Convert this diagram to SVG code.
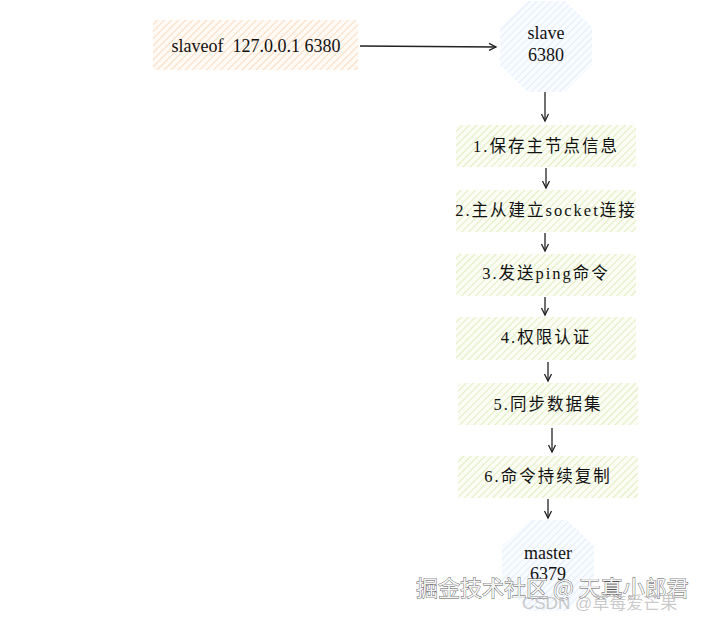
<svg xmlns="http://www.w3.org/2000/svg" width="706" height="619" viewBox="0 0 706 619">
<defs>
<pattern id="hOrange" width="5" height="5" patternUnits="userSpaceOnUse" patternTransform="rotate(45)">
<rect width="5" height="5" fill="#fffaf5"/>
<line x1="0" y1="0" x2="0" y2="5" stroke="#fbdcc0" stroke-width="2"/>
</pattern>
<pattern id="hGreen" width="5" height="5" patternUnits="userSpaceOnUse" patternTransform="rotate(45)">
<rect width="5" height="5" fill="#fbfdf4"/>
<line x1="0" y1="0" x2="0" y2="5" stroke="#e2edbf" stroke-width="2"/>
</pattern>
<pattern id="hBlue" width="5" height="5" patternUnits="userSpaceOnUse" patternTransform="rotate(45)">
<rect width="5" height="5" fill="#f8fbff"/>
<line x1="0" y1="0" x2="0" y2="5" stroke="#dfeaf8" stroke-width="1.6"/>
</pattern>
<marker id="arr" markerWidth="10" markerHeight="10" refX="8" refY="5" orient="auto" markerUnits="userSpaceOnUse">
<path d="M1,1.5 L8,5 L1,8.5" fill="none" stroke="#222" stroke-width="1.3"/>
</marker>
</defs>
<style>
.t{font-family:"Liberation Serif","Noto Sans CJK SC",serif;font-size:18px;fill:#111;text-anchor:middle}
.c{font-family:"Liberation Serif","Noto Sans CJK SC",serif;font-size:16.5px;fill:#111;text-anchor:middle;letter-spacing:2px}
.edge{stroke:#222;stroke-width:1.3;fill:none;marker-end:url(#arr)}
.wm{font-family:"Noto Sans CJK SC",sans-serif;fill:#f4f4f4;stroke:#555;stroke-width:0.8;paint-order:stroke}
</style>
<rect width="706" height="619" fill="#fff"/>

<g id="cmd">
<rect x="153" y="20" width="205" height="50" fill="url(#hOrange)"/>
<text class="t" x="256" y="52">slaveof&#160; 127.0.0.1 6380</text>
</g>

<g id="slave">
<polygon points="528,1 565,1 592,27 592,65 565,92 528,92 500,65 500,27" fill="url(#hBlue)" stroke="none"/>
<text class="t" x="546" y="39">slave</text>
<text class="t" x="546" y="61">6380</text>
</g>

<g id="step1">
<rect x="456" y="125" width="180" height="42" fill="url(#hGreen)" rx="3"/>
<text class="c" x="546" y="152">1.保存主节点信息</text>
</g>
<g id="step2">
<rect x="456" y="190" width="180" height="42" fill="url(#hGreen)" rx="3"/>
<text class="c" x="546" y="216" letter-spacing="1">2.主从建立socket连接</text>
</g>
<g id="step3">
<rect x="456" y="254" width="180" height="42" fill="url(#hGreen)" rx="3"/>
<text class="c" x="546" y="279">3.发送ping命令</text>
</g>
<g id="step4">
<rect x="456" y="317" width="180" height="43" fill="url(#hGreen)" rx="3"/>
<text class="c" x="546" y="343">4.权限认证</text>
</g>
<g id="step5">
<rect x="458" y="383" width="180" height="42" fill="url(#hGreen)" rx="3"/>
<text class="c" x="548" y="410">5.同步数据集</text>
</g>
<g id="step6">
<rect x="458" y="456" width="180" height="42" fill="url(#hGreen)" rx="3"/>
<text class="c" x="548" y="482">6.命令持续复制</text>
</g>

<g id="master">
<polygon points="530,520 567,520 594,546 594,584 567,611 530,611 502,584 502,546" fill="url(#hBlue)" stroke="none"/>
<text class="t" x="548" y="559">master</text>
<text class="t" x="548" y="580">6379</text>
</g>

<g id="connectors">
<path class="edge" d="M360,46 L496,47"/>
<path class="edge" d="M545,92 L545,121"/>
<path class="edge" d="M546,168 L546,188"/>
<path class="edge" d="M545,233 L545,251"/>
<path class="edge" d="M545,297 L545,315"/>
<path class="edge" d="M548,362 L548,381"/>
<path class="edge" d="M552,428 L552,452"/>
<path class="edge" d="M548,499 L548,518"/>
</g>

<g id="watermark">
<text class="wm" x="416" y="596" font-size="22">掘金技术社区 @ 天真小郎君</text>
<text x="522" y="609" font-family="Liberation Sans,Noto Sans CJK SC,sans-serif" font-size="17" fill="#bbb" fill-opacity="0.8">CSDN @草莓爱芒果</text>
</g>
</svg>
